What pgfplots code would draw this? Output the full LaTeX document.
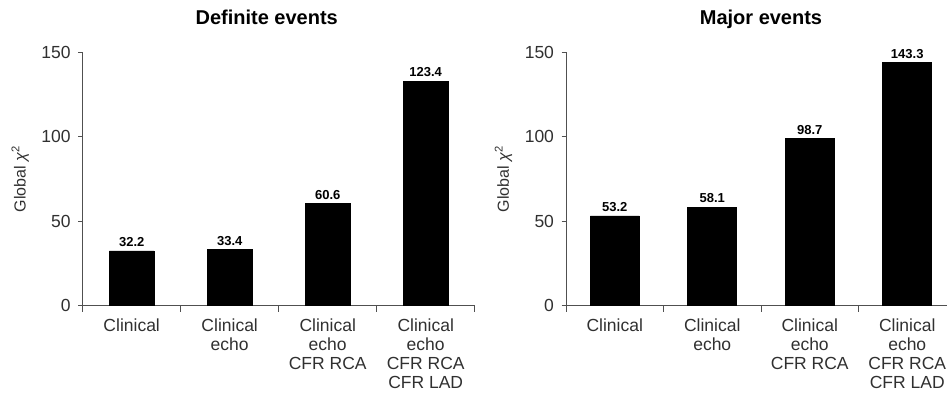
\documentclass[border=0pt]{standalone}
\usepackage{fontspec}
\setmainfont{Liberation Sans}
\usepackage{pgfplots}
\pgfplotsset{compat=1.18}
\definecolor{axgray}{HTML}{505050}
\definecolor{txtgray}{HTML}{303030}
\begin{document}
\begin{tikzpicture}[x=1pt,y=1pt]
\useasboundingbox (0,0) rectangle (947,392);
\pgfplotsset{
  myax/.style={
    scale only axis, height=253.4pt,
    ymin=0, ymax=150, xmin=-0.5, xmax=3.5,
    axis lines=left,
    axis line style={draw=axgray, line width=0.8pt, -},
    every tick/.style={draw=axgray, line width=0.8pt},
    ytick={0,50,100,150},
    xtick={0,1,2,3},
    major x tick style={draw=none},
    minor xtick={-0.5,0.5,1.5,2.5,3.5},
    tick align=outside,
    major tick length=4.5pt, minor tick length=6pt,
    /pgf/number format/assume math mode=true,
    yticklabel style={font=\fontsize{17.5}{19}\selectfont, text=txtgray, xshift=-4pt},
    xticklabel style={font=\fontsize{17.5}{19}\selectfont, text=txtgray, align=center, yshift=-5pt},
    xticklabels={Clinical, {Clinical\\echo}, {Clinical\\echo\\CFR RCA}, {Clinical\\echo\\CFR RCA\\CFR LAD}},
    ylabel={Global {\itshape χ}\textsuperscript{2}},
    every axis y label/.style={at={(axis description cs:0,0.5)}, rotate=90, anchor=center, yshift=62.5pt, font=\fontsize{16}{19}\selectfont, text=txtgray},
    title style={at={(0.5,1)}, anchor=base, yshift=22.3pt, font=\bfseries\fontsize{20}{22}\selectfont, text=black},
    ybar, bar shift=0pt,
    nodes near coords, point meta=explicit symbolic,
    every node near coord/.append style={font=\bfseries\fontsize{13}{15}\selectfont, text=black, yshift=0.5pt},
    clip=false,
  }
}
\begin{axis}[myax, width=392pt, at={(82.7pt,86.3pt)}, anchor=south west,
  bar width=44.5pt, title={Definite events}, title style={xshift=-12pt}]
\addplot[fill=black, draw=black, line width=0.6pt] coordinates {(0,32.4)[32.2] (1,33.4)[33.4] (2,60.5)[60.6] (3,132.9)[123.4]};
\end{axis}
\begin{axis}[myax, width=390pt, at={(566pt,86.3pt)}, anchor=south west,
  bar width=49pt, title={Major events}]
\addplot[fill=black, draw=black, line width=0.6pt] coordinates {(0,53.2)[53.2] (1,58.3)[58.1] (2,99.0)[98.7] (3,143.8)[143.3]};
\end{axis}
\end{tikzpicture}
\end{document}
